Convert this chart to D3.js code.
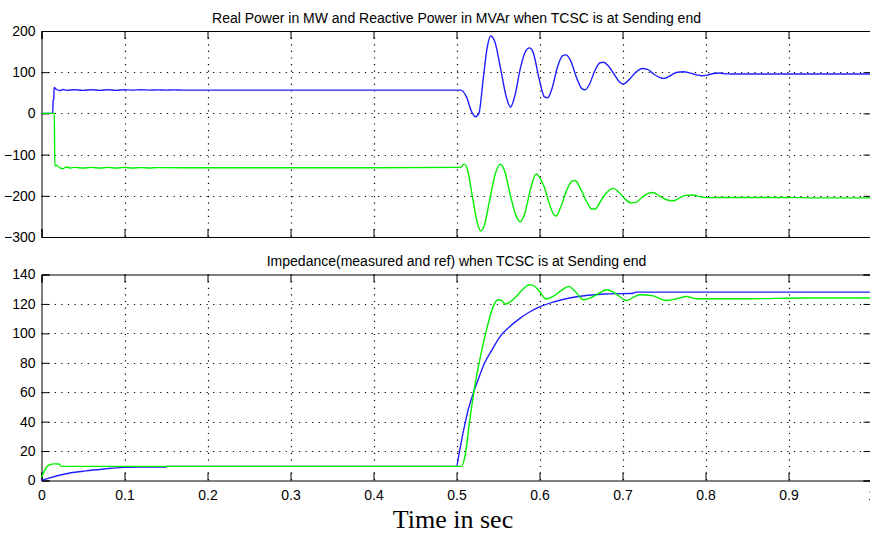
<!DOCTYPE html>
<html><head><meta charset="utf-8">
<script src="https://cdn.jsdelivr.net/npm/d3@7"></script>
<style>body{margin:0;background:#fff}svg{display:block}</style>
</head><body><svg id="c" width="870" height="534"></svg>
<script>
// ---- data ----
const xTicks = [0,0.1,0.2,0.3,0.4,0.5,0.6,0.7,0.8,0.9,1];
const xTickLabels = ["0","0.1","0.2","0.3","0.4","0.5","0.6","0.7","0.8","0.9","1"];
const topYTicks = [-300,-200,-100,0,100,200];
const botYTicks = [0,20,40,60,80,100,120,140];
const titleTop = "Real Power in MW and Reactive Power in MVAr when TCSC is at Sending end";
const titleBot = "Impedance(measured and ref) when TCSC is at Sending end";
const xLabel = "Time in sec";

// Real power (MW) [t, value]
const realPower = [[0,0],[0.0135,0],[0.014,30],[0.0148,36],[0.0152,63],[0.018,58],[0.022,55.5],[0.026,58],[0.03,56],[0.04,57.5],[0.05,56],[0.06,57.5],[0.07,56],[0.08,57.5],[0.09,56],[0.1,57.5],[0.11,56.5],[0.12,57.5],[0.13,56.5],[0.14,57],[0.15,56.5],[0.16,57],[0.17,56.5],[0.2,56.5],[0.3,56.5],[0.4,56.5],[0.505,56.5],[0.512,40],[0.518,5],[0.523,-8],[0.527,0],[0.532,80],[0.537,160],[0.541,188],[0.546,175],[0.553,110],[0.56,40],[0.565,15],[0.57,40],[0.577,110],[0.583,150],[0.588,159],[0.592,150],[0.6,80],[0.606,40],[0.61,38],[0.615,60],[0.622,115],[0.628,140],[0.632,142],[0.637,130],[0.645,85],[0.651,60],[0.655,57],[0.66,70],[0.667,105],[0.673,123],[0.677,124],[0.683,115],[0.69,95],[0.697,75],[0.701,71],[0.708,82],[0.716,100],[0.724,109],[0.73,107],[0.738,95],[0.745,87],[0.75,85],[0.758,92],[0.766,100],[0.773,101],[0.78,99],[0.788,94],[0.795,91.5],[0.802,93],[0.81,97],[0.817,98],[0.825,96],[0.84,95.5],[1,95.5]];
// Reactive power (MVAr) [t, value]
const reactivePower = [[0,0],[0.0155,0],[0.016,-127],[0.018,-126],[0.022,-132],[0.026,-134],[0.03,-130],[0.035,-132.5],[0.04,-131],[0.05,-132.5],[0.06,-131],[0.07,-132.5],[0.08,-131],[0.09,-132.5],[0.1,-131],[0.11,-132.5],[0.12,-131.5],[0.13,-132.5],[0.14,-131.5],[0.2,-132],[0.3,-132],[0.4,-132],[0.505,-131],[0.509,-123],[0.513,-135],[0.519,-200],[0.525,-265],[0.529,-285],[0.533,-275],[0.54,-210],[0.547,-145],[0.553,-123],[0.558,-140],[0.565,-200],[0.572,-250],[0.577,-263],[0.582,-245],[0.589,-185],[0.596,-147],[0.601,-158],[0.606,-180],[0.612,-220],[0.617,-245],[0.62,-249],[0.626,-225],[0.633,-185],[0.639,-165],[0.643,-163],[0.65,-185],[0.657,-215],[0.663,-232],[0.667,-232],[0.674,-212],[0.682,-190],[0.689,-182],[0.695,-190],[0.703,-208],[0.71,-217],[0.716,-216],[0.724,-203],[0.731,-194],[0.737,-192],[0.744,-200],[0.752,-209],[0.761,-212],[0.768,-206],[0.776,-199],[0.785,-198],[0.793,-202],[0.801,-204.5],[0.83,-204],[0.9,-204],[0.93,-205],[1,-205]];
// Impedance reference [t, value]
const impedanceRef = [[0,0],[0.01,1.8],[0.02,3.4],[0.03,4.6],[0.04,5.6],[0.05,6.3],[0.06,7],[0.07,7.5],[0.08,8.1],[0.09,8.6],[0.1,8.9],[0.12,9.1],[0.15,9.2],[0.151,9.6],[0.5,9.6],[0.503,18],[0.506,27],[0.51,38],[0.515,50],[0.52,59],[0.527,70],[0.534,80],[0.543,89],[0.552,97.5],[0.563,104],[0.576,110],[0.588,114.5],[0.6,118],[0.618,121.5],[0.636,124],[0.656,125.7],[0.677,126.7],[0.713,127.3],[0.716,128],[1,128]];
// Impedance measured [t, value]
const impedanceMeas = [[0,2],[0.003,6],[0.006,9],[0.01,10.8],[0.015,11.3],[0.021,11.2],[0.024,9.6],[0.5,9.6],[0.506,9.6],[0.51,16],[0.516,41],[0.522,64],[0.528,82],[0.536,102],[0.544,118],[0.55,122.8],[0.554,122.5],[0.559,119.8],[0.564,121],[0.572,125],[0.58,130],[0.588,133],[0.594,132],[0.6,128.5],[0.608,123.3],[0.616,125],[0.626,129],[0.635,131.9],[0.643,128.5],[0.653,122.8],[0.661,124],[0.671,127],[0.681,129.6],[0.691,127.4],[0.705,122.3],[0.713,124.5],[0.721,126.2],[0.737,125.5],[0.752,122.3],[0.765,123.5],[0.777,125],[0.789,123.5],[0.85,123.5],[0.92,124],[1,124]];

// ---- drawing ----
const svg = d3.select("#c");
const FONT = "'Liberation Sans', Arial, sans-serif";
const BLUE = "#1f1fff", GREEN = "#00f000";
const x = d3.scaleLinear().domain([0,1]).range([41.5,871.5]);

function panel(y, yTicks, showXLabels, title, series) {
  const [y0, y1] = y.range(); // bottom, top
  const g = svg.append("g");
  // grid
  const gridX = xTicks.filter(t => t > 0 && t < 1);
  g.selectAll(null).data(gridX).enter().append("line")
    .attr("x1", d => Math.round(x(d))+0.5).attr("x2", d => Math.round(x(d))+0.5)
    .attr("y1", y1).attr("y2", y0)
    .attr("stroke", "#000").attr("stroke-width", 1.2).attr("stroke-dasharray", "1.2,5.4");
  const gridY = yTicks.slice(1, -1);
  g.selectAll(null).data(gridY).enter().append("line")
    .attr("y1", d => Math.round(y(d))+0.5).attr("y2", d => Math.round(y(d))+0.5)
    .attr("x1", x.range()[0]).attr("x2", x.range()[1])
    .attr("stroke", "#000").attr("stroke-width", 1.2).attr("stroke-dasharray", "1.2,5.4");
  // axes with inward ticks
  const axL = d3.axisLeft(y).tickValues(yTicks).tickSize(-8).tickPadding(6).tickFormat(d3.format("d"));
  const axR = d3.axisRight(y).tickValues(yTicks).tickSize(-8).tickFormat("");
  const axB = d3.axisBottom(x).tickValues(xTicks).tickSize(-8).tickPadding(10)
    .tickFormat((d,i) => showXLabels ? xTickLabels[i] : "");
  const axT = d3.axisTop(x).tickValues(xTicks).tickSize(-8).tickFormat("");
  [[axL, `translate(${x.range()[0]},0)`], [axR, `translate(${x.range()[1]},0)`],
   [axB, `translate(0,${y0})`], [axT, `translate(0,${y1})`]].forEach(([ax, tr]) => {
    const a = g.append("g").attr("transform", tr).call(ax);
    a.select(".domain").attr("stroke", "#000");
    a.selectAll(".tick line").attr("stroke", "#000");
    a.selectAll("text").attr("font-family", FONT).attr("font-size", 14).attr("fill", "#000");
  });
  // title
  g.append("text").attr("x", (x.range()[0]+x.range()[1])/2).attr("y", y1 - 8.5)
    .attr("text-anchor", "middle").attr("font-family", FONT).attr("font-size", 14)
    .text(title);
  // lines
  const line = d3.line().x(d => x(d[0])).y(d => y(d[1])).curve(d3.curveMonotoneX);
  series.forEach(([data, color]) => {
    g.append("path").datum(data).attr("d", line).attr("fill", "none")
      .attr("stroke", color).attr("stroke-width", 1.4).attr("stroke-linejoin", "round");
  });
}

const yTop = d3.scaleLinear().domain([-300,200]).range([237,31]);
const yBot = d3.scaleLinear().domain([0,140]).range([480.5,274.5]);

panel(yTop, topYTicks, false, titleTop, [[realPower, BLUE], [reactivePower, GREEN]]);
panel(yBot, botYTicks, true, titleBot, [[impedanceRef, BLUE], [impedanceMeas, GREEN]]);

svg.append("text").attr("x", 453).attr("y", 528).attr("text-anchor", "middle")
  .attr("font-family", "'Liberation Serif', 'Times New Roman', serif").attr("font-size", 26)
  .text(xLabel);
</script></body></html>
